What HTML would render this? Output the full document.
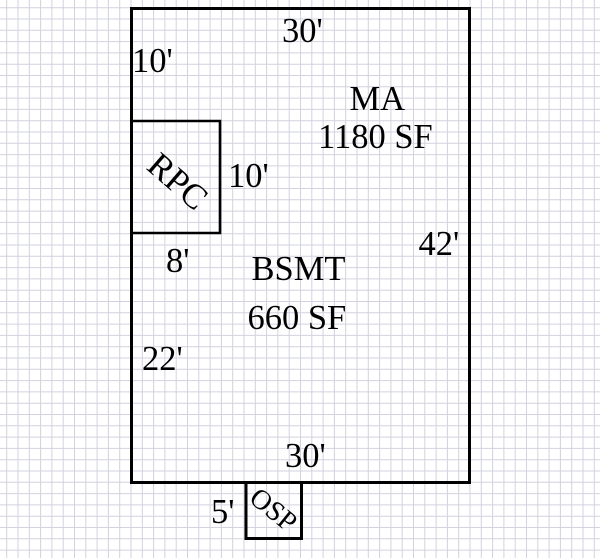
<!DOCTYPE html>
<html>
<head>
<meta charset="utf-8">
<style>
  html, body { margin: 0; padding: 0; background: #ffffff; }
  body { width: 600px; height: 558px; overflow: hidden; }
  svg { display: block; }
  text { font-family: "Liberation Serif", "Times New Roman", serif; fill: #000; }
</style>
</head>
<body>
<svg width="600" height="558" viewBox="0 0 600 558" xmlns="http://www.w3.org/2000/svg">
  <rect x="0" y="0" width="600" height="558" fill="#ffffff"/>
  <!-- grid -->
  <path stroke="#d2d2e0" stroke-width="1" fill="none" d="
    M6.7 0V558 M18.0 0V558 M29.3 0V558 M40.6 0V558 M51.9 0V558 M63.2 0V558 M74.5 0V558 M85.8 0V558 M97.1 0V558 M108.4 0V558
    M119.7 0V558 M131.0 0V558 M142.3 0V558 M153.6 0V558 M164.9 0V558 M176.2 0V558 M187.5 0V558 M198.8 0V558 M210.1 0V558 M221.4 0V558
    M232.7 0V558 M244.0 0V558 M255.3 0V558 M266.6 0V558 M277.9 0V558 M289.2 0V558 M300.5 0V558 M311.8 0V558 M323.1 0V558 M334.4 0V558
    M345.7 0V558 M357.0 0V558 M368.3 0V558 M379.6 0V558 M390.9 0V558 M402.2 0V558 M413.5 0V558 M424.8 0V558 M436.1 0V558 M447.4 0V558
    M458.7 0V558 M470.0 0V558 M481.3 0V558 M492.6 0V558 M503.9 0V558 M515.2 0V558 M526.5 0V558 M537.8 0V558 M549.1 0V558 M560.4 0V558
    M571.7 0V558 M583.0 0V558 M594.3 0V558
    M0 7.7H600 M0 19.0H600 M0 30.3H600 M0 41.6H600 M0 52.9H600 M0 64.2H600 M0 75.5H600 M0 86.8H600 M0 98.1H600 M0 109.4H600
    M0 120.7H600 M0 132.0H600 M0 143.3H600 M0 154.6H600 M0 165.9H600 M0 177.2H600 M0 188.5H600 M0 199.8H600 M0 211.1H600 M0 222.4H600
    M0 233.7H600 M0 245.0H600 M0 256.3H600 M0 267.6H600 M0 278.9H600 M0 290.2H600 M0 301.5H600 M0 312.8H600 M0 324.1H600 M0 335.4H600
    M0 346.7H600 M0 358.0H600 M0 369.3H600 M0 380.6H600 M0 391.9H600 M0 403.2H600 M0 414.5H600 M0 425.8H600 M0 437.1H600 M0 448.4H600
    M0 459.7H600 M0 471.0H600 M0 482.3H600 M0 493.6H600 M0 504.9H600 M0 516.2H600 M0 527.5H600 M0 538.8H600 M0 550.1H600
  "/>

  <!-- main outline -->
  <rect x="131.5" y="8.5" width="338" height="474" fill="none" stroke="#000" stroke-width="3"/>
  <!-- RPC box -->
  <path d="M131.5 121 H220 V233 H131.5" fill="none" stroke="#000" stroke-width="2.6"/>
  <!-- OSP box -->
  <path d="M246 482.5 V538.5 H301.5 V482.5" fill="none" stroke="#000" stroke-width="3"/>

  <!-- labels -->
  <text x="282" y="42" font-size="34.5">30'</text>
  <text x="132" y="72" font-size="34.5">10'</text>
  <text x="349.5" y="110" font-size="34.5">MA</text>
  <text x="318" y="148" font-size="34.5">1180 SF</text>
  <text x="228" y="187" font-size="34.5">10'</text>
  <text x="418.5" y="255" font-size="34.5">42'</text>
  <text x="166" y="272" font-size="34.5">8'</text>
  <text x="251.5" y="280" font-size="34.5">BSMT</text>
  <text x="247.5" y="329" font-size="34.5">660 SF</text>
  <text x="142" y="370" font-size="34.5">22'</text>
  <text x="285" y="467" font-size="34.5">30'</text>
  <text x="211" y="523" font-size="34.5">5'</text>

  <!-- rotated labels -->
  <g transform="translate(178 181) rotate(41)">
    <text x="0" y="12" font-size="35" text-anchor="middle">RPC</text>
  </g>
  <g transform="translate(274 509) rotate(39)">
    <text x="0" y="10" font-size="28" text-anchor="middle">OSP</text>
  </g>
</svg>
</body>
</html>
